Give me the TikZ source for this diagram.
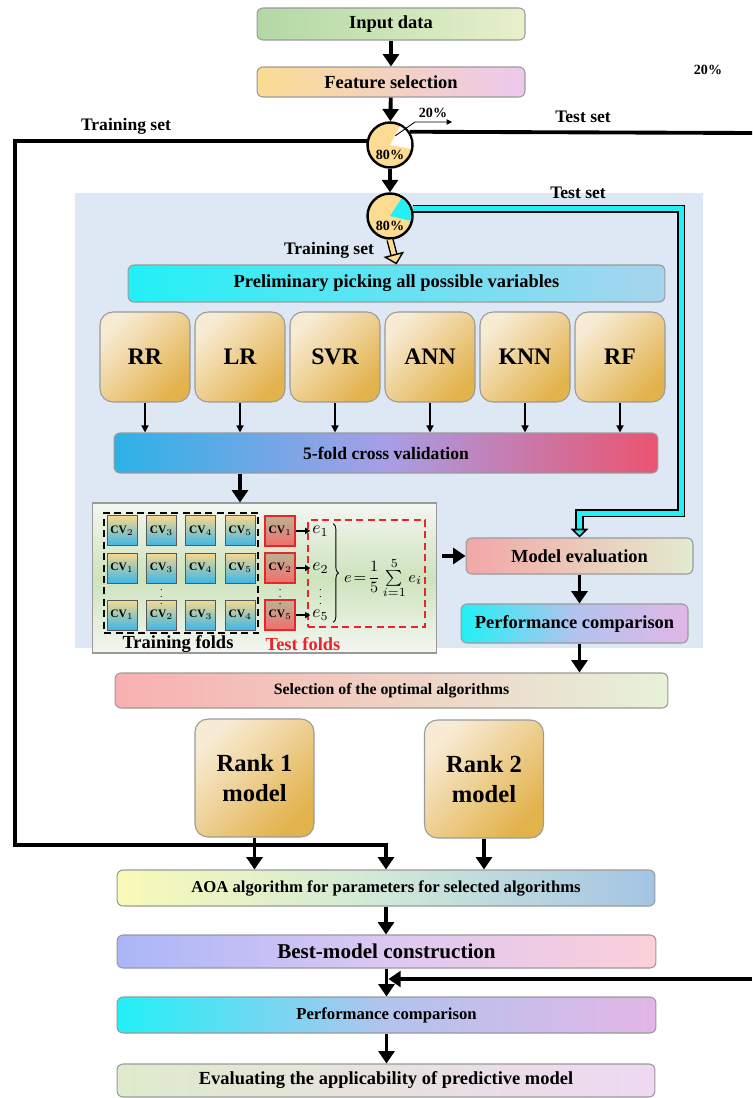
\documentclass[tikz,border=0pt]{standalone}
\usepackage{fontspec}
\setmainfont{Liberation Serif}
\usepackage{amsmath}
\usetikzlibrary{positioning,calc,fit,arrows.meta,decorations.pathreplacing}

\definecolor{panelbg}{HTML}{DEE8F4}
\definecolor{boxgray}{HTML}{9A9A9A}
\definecolor{pieyel}{HTML}{FBDC92}
\definecolor{pipecyan}{HTML}{22F0F6}
\definecolor{goldA}{HTML}{F8EBD4}
\definecolor{goldB}{HTML}{E2B24C}
\definecolor{cvtop}{HTML}{F7D88E}
\definecolor{cvbot}{HTML}{3CB6E8}
\definecolor{tsttop}{HTML}{B9B392}
\definecolor{tstbot}{HTML}{F36E6C}
\definecolor{foldred}{HTML}{E6262A}
\definecolor{cvgreen}{HTML}{CDE3BC}
\definecolor{cvwhite}{HTML}{F4F6F2}
\definecolor{inL}{HTML}{B2D8A4}
\definecolor{inR}{HTML}{E8F0CC}
\definecolor{featR}{HTML}{ECC8EE}
\definecolor{preR}{HTML}{A8D4EE}
\definecolor{foldL}{HTML}{2CB2E6}
\definecolor{foldM}{HTML}{A89EE6}
\definecolor{foldR}{HTML}{EA5470}
\definecolor{evalL}{HTML}{F2A7A7}
\definecolor{evalR}{HTML}{E3EBCF}
\definecolor{perfM}{HTML}{B3C3EE}
\definecolor{perfR}{HTML}{E2B6E6}
\definecolor{selL}{HTML}{F8B0B0}
\definecolor{selR}{HTML}{E6F2D8}
\definecolor{aoaL}{HTML}{FAFAB8}
\definecolor{aoaM}{HTML}{CFE8D8}
\definecolor{aoaR}{HTML}{A4C4E4}
\definecolor{bestL}{HTML}{AAB6F8}
\definecolor{bestM}{HTML}{DCC8F2}
\definecolor{bestR}{HTML}{FCCFD9}
\definecolor{appL}{HTML}{DFEBCC}
\definecolor{appR}{HTML}{EED8F2}

\tikzset{
  box/.style={draw=boxgray, line width=0.6pt, rounded corners=0.12cm, inner sep=0pt},
  algo/.style={box, rounded corners=0.26cm, top color=goldA, bottom color=goldB, shading angle=45, align=center},
  pie/.style={circle, draw, line width=1.4pt, fill=pieyel, minimum size=0.9cm, inner sep=0pt},
  cv/.style={draw=black!65, line width=0.5pt, top color=cvtop, bottom color=cvbot, minimum size=0.6cm, inner sep=0pt, font=\fontsize{6.5}{7}\selectfont\bfseries},
  cvtest/.style={cv, draw=foldred, line width=1.2pt, top color=tsttop, bottom color=tstbot},
  vdot/.style={inner sep=0pt, font=\fontsize{6}{6}\selectfont},
  lbl/.style={font=\fontsize{10}{12}\selectfont\bfseries},
  flow/.style={line width=2.2pt, -{Triangle[length=7pt,width=9pt]}},
  thinflow/.style={line width=0.8pt, -{Triangle[length=4pt,width=4pt]}},
  pipe/.style={line width=0.9pt, double=pipecyan, double distance=0.1cm, -{Triangle[length=5pt,width=10pt,fill=pipecyan]}},
  fat/.style={line width=0.8pt, double=pieyel, double distance=0.09cm, -{Triangle[length=6pt,width=12pt,fill=pieyel]}},
}

\begin{document}
\begin{tikzpicture}[x=0.02cm, y=-0.02cm]
  \useasboundingbox (0,0) rectangle (752,1098);

  % light panel behind the model screening stage
  \fill[panelbg] (75,193) rectangle (703,648);

  % top of the flow
  \node[box, left color=inL, right color=inR, minimum width=5.36cm, minimum height=0.64cm, font=\fontsize{10.5}{12}\selectfont\bfseries] (input) at (391,24) {Input data};
  \node[box, left color=pieyel, right color=featR, minimum width=5.36cm, minimum height=0.6cm, font=\fontsize{10.5}{12}\selectfont\bfseries] (feature) at (391,82) {Feature selection};

  \node[pie] (pieA) at (390,145) {};
  \begin{scope}[shift={(pieA.center)}, x=1cm, y=1cm]
    \fill[white] (0,0) -- (-10:0.425) arc[start angle=-10, end angle=62, radius=0.425] -- cycle;
  \end{scope}
  \node[font=\fontsize{8}{9}\selectfont\bfseries] (pieAval) at ([yshift=-0.2cm]pieA.center) {80\%};

  \node[pie] (pieB) at (390,216) {};
  \begin{scope}[shift={(pieB.center)}, x=1cm, y=1cm]
    \fill[pipecyan] (0,0) -- (-13:0.425) arc[start angle=-13, end angle=57, radius=0.425] -- cycle;
  \end{scope}
  \node[font=\fontsize{8}{9}\selectfont\bfseries] (pieBval) at ([yshift=-0.2cm]pieB.center) {80\%};

  \node[lbl] (trainA) at (126,126) {Training set};
  \node[lbl] (testA) at (583,117) {Test set};
  \node[font=\fontsize{8}{9}\selectfont\bfseries] (pctA) at (433,113) {20\%};
  \node[font=\fontsize{8}{9}\selectfont\bfseries] (pctB) at (708,70) {20\%};
  \node[lbl] (testB) at (578,193) {Test set};
  \node[lbl] (trainB) at (329,250) {Training set};

  % screening of the candidate algorithms
  \node[box, left color=pipecyan, right color=preR, minimum width=10.74cm, minimum height=0.74cm, font=\fontsize{10.5}{12}\selectfont\bfseries] (prelim) at (396.5,283.5) {Preliminary picking all possible variables};

  \node[algo, minimum width=1.8cm, minimum height=1.8cm, font=\fontsize{13.5}{16}\selectfont\bfseries] (rr) at (145,357) {RR};
  \node[algo, minimum width=1.8cm, minimum height=1.8cm, font=\fontsize{13.5}{16}\selectfont\bfseries] (lr) at (240,357) {LR};
  \node[algo, minimum width=1.8cm, minimum height=1.8cm, font=\fontsize{13.5}{16}\selectfont\bfseries] (svr) at (335,357) {SVR};
  \node[algo, minimum width=1.8cm, minimum height=1.8cm, font=\fontsize{13.5}{16}\selectfont\bfseries] (ann) at (430,357) {ANN};
  \node[algo, minimum width=1.8cm, minimum height=1.8cm, font=\fontsize{13.5}{16}\selectfont\bfseries] (knn) at (525,357) {KNN};
  \node[algo, minimum width=1.8cm, minimum height=1.8cm, font=\fontsize{13.5}{16}\selectfont\bfseries] (rf) at (620,357) {RF};

  \node[box, left color=foldL, right color=foldR, middle color=foldM, minimum width=10.88cm, minimum height=0.8cm, font=\fontsize{10}{12}\selectfont\bfseries] (cvfive) at (386,453) {5-fold cross validation};

  % folds of the cross validation
  \node[draw=boxgray, line width=0.6pt, top color=cvwhite, bottom color=cvwhite, middle color=cvgreen, minimum width=6.9cm, minimum height=3.0cm] (cvpanel) at (264.5,578) {};
  \matrix (folds) [row sep=0.1cm, column sep=0.17cm] at (201.5,573) {
    \node[cv] (c11) {CV$_2$}; & \node[cv] (c12) {CV$_3$}; & \node[cv] (c13) {CV$_4$}; & \node[cv] (c14) {CV$_5$}; & \node[cvtest] (t1) {CV$_1$}; \\
    \node[cv] (c21) {CV$_1$}; & \node[cv] (c22) {CV$_3$}; & \node[cv] (c23) {CV$_4$}; & \node[cv] (c24) {CV$_5$}; & \node[cvtest] (t2) {CV$_2$}; \\[0.2cm]
    \node[cv] (c31) {CV$_1$}; & \node[cv] (c32) {CV$_2$}; & \node[cv] (c33) {CV$_3$}; & \node[cv] (c34) {CV$_4$}; & \node[cvtest] (t3) {CV$_5$}; \\
  };
  \node[vdot] (dotsC) at ($(c22)!0.5!(c32)$) {$\vdots$};
  \node[vdot] (dotsT) at ($(t2)!0.5!(t3)$) {$\vdots$};
  \node[draw, line width=1pt, dash pattern=on 4pt off 2.5pt, fit=(c11)(c34), inner sep=0.05cm] (trainbox) {};
  \node[draw=foldred, line width=1pt, dash pattern=on 4pt off 2.5pt, minimum width=2.34cm, minimum height=2.14cm, inner sep=0pt] (errbox) at (366.5,573.5) {};

  \node[right=0.28cm of t1, inner sep=1pt, font=\fontsize{10}{12}\selectfont] (e1) {$e_1$};
  \node[right=0.28cm of t2, inner sep=1pt, font=\fontsize{10}{12}\selectfont] (e2) {$e_2$};
  \node[right=0.28cm of t3, inner sep=1pt, font=\fontsize{10}{12}\selectfont] (e5) {$e_5$};
  \node[vdot] (dotsE) at ($(e2)!0.5!(e5)$) {$\vdots$};
  \draw[decorate, decoration={brace, amplitude=3pt}, line width=0.5pt] ($(e1.north east)+(1.5pt,0)$) -- ($(e5.south east)+(1.5pt,0)$);
  \node[inner sep=0pt, font=\fontsize{9.5}{11}\selectfont] (mean) at (383,578) {$e\mkern2mu{=}\mkern2mu\dfrac{1}{5}\sum\limits_{i=1}^{5}e_i$};

  \node[font=\fontsize{10.5}{12}\selectfont\bfseries] (trainlbl) at (178,644) {Training folds};
  \node[font=\fontsize{10.5}{12}\selectfont\bfseries, text=foldred] (testlbl) at (303,644) {Test folds};

  \draw[line width=0.8pt, -{Triangle[length=3pt,width=3.5pt]}] (t1) -- (e1);
  \draw[line width=0.8pt, -{Triangle[length=3pt,width=3.5pt]}] (t2) -- (e2);
  \draw[line width=0.8pt, -{Triangle[length=3pt,width=3.5pt]}] (t3) -- (e5);

  % evaluation and ranking
  \node[box, left color=evalL, right color=evalR, minimum width=4.54cm, minimum height=0.72cm, font=\fontsize{10.5}{12}\selectfont\bfseries] (modeleval) at (579.5,556) {Model evaluation};
  \node[box, left color=pipecyan, right color=perfR, middle color=perfM, minimum width=4.54cm, minimum height=0.78cm, font=\fontsize{10.5}{12}\selectfont\bfseries] (perfA) at (574.5,623.5) {Performance comparison};
  \node[box, left color=selL, right color=selR, minimum width=11.06cm, minimum height=0.7cm, font=\fontsize{9}{11}\selectfont\bfseries] (select) at (391.5,690.5) {Selection of the optimal algorithms};

  \node[algo, minimum width=2.38cm, minimum height=2.36cm, font=\fontsize{14}{17}\selectfont\bfseries] (rank1) at (254.5,778) {Rank 1\\model};
  \node[algo, minimum width=2.38cm, minimum height=2.36cm, font=\fontsize{14}{17}\selectfont\bfseries] (rank2) at (484,779) {Rank 2\\model};

  % final model
  \node[box, left color=aoaL, right color=aoaR, middle color=aoaM, minimum width=10.76cm, minimum height=0.72cm, font=\fontsize{9.5}{11}\selectfont\bfseries] (aoa) at (386,888) {AOA algorithm for parameters for selected algorithms};
  \node[box, left color=bestL, right color=bestR, middle color=bestM, minimum width=10.78cm, minimum height=0.66cm, font=\fontsize{12}{14}\selectfont\bfseries] (best) at (386.5,951.5) {Best-model construction};
  \node[box, left color=pipecyan, right color=perfR, middle color=perfM, minimum width=10.78cm, minimum height=0.72cm, font=\fontsize{9.5}{11}\selectfont\bfseries] (perfB) at (386.5,1015) {Performance comparison};
  \node[box, left color=appL, right color=appR, minimum width=10.76cm, minimum height=0.66cm, font=\fontsize{10.5}{12}\selectfont\bfseries] (evalapp) at (386,1080.5) {Evaluating the applicability of predictive model};

  \coordinate (trainleft) at (15,845);
  \coordinate (testout) at (752,133);
  \coordinate (testin) at (752,979);
  \coordinate (splitout) at (452,122);
  \coordinate (pipeturn) at (681,513);

  % connections
  \draw[flow] (input) -- (feature);
  \draw[flow] (feature) -- (pieA);
  \draw[flow] (pieA) -- (pieB);
  \draw[line width=0.5pt, -{Triangle[length=3pt,width=3pt]}] ($(pieA.center)!0.45!(pieA.60)$) -- (415,122) -- (splitout);
  \draw[flow] (pieA.170) -| (trainleft) -| (aoa.north);
  \draw[line width=2.2pt] (pieA.34) -- (testout);
  \draw[pipe] (pieB.18) -| (pipeturn) -| (modeleval.north);
  \draw[fat] (pieB.south) -- (prelim.north);

  \draw[thinflow] (rr) -- (rr |- cvfive.north);
  \draw[thinflow] (lr) -- (lr |- cvfive.north);
  \draw[thinflow] (svr) -- (svr |- cvfive.north);
  \draw[thinflow] (ann) -- (ann |- cvfive.north);
  \draw[thinflow] (knn) -- (knn |- cvfive.north);
  \draw[thinflow] (rf) -- (rf |- cvfive.north);

  \draw[flow] (lr |- cvfive.south) -- (lr |- cvpanel.north);
  \draw[flow, shorten <=0.1cm] (cvpanel.east |- modeleval) -- (modeleval.west);
  \draw[flow] (modeleval) -- (modeleval |- perfA.north);
  \draw[flow] (modeleval |- perfA.south) -- (modeleval |- select.north);

  \draw[flow] (rank1) -- (rank1 |- aoa.north);
  \draw[flow] (rank2) -- (rank2 |- aoa.north);
  \draw[flow] (aoa) -- (aoa |- best.north);
  \draw[flow] (best) -- (best |- perfB.north);
  \draw[flow] (testin) -- ($(best.south |- testin)+(1.1pt,0)$);
  \draw[flow] (perfB) -- (perfB |- evalapp.north);
\end{tikzpicture}
\end{document}
